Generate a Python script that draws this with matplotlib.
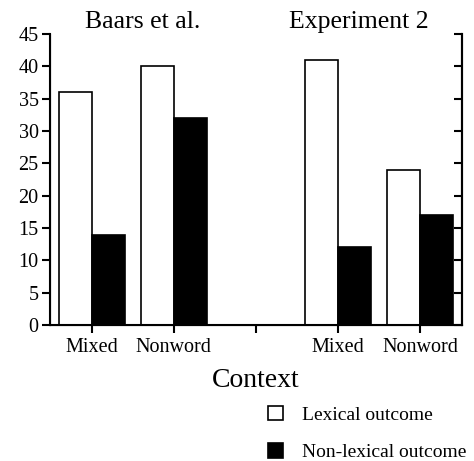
import numpy as np
import matplotlib.pyplot as plt
from matplotlib.patches import Patch

plt.rcParams["font.family"] = ["Liberation Serif", "DejaVu Serif"]

# data
tick_labels = ["Mixed", "Nonword", "", "Mixed", "Nonword"]
group_pos = [0, 1, 3, 4]
lexical = [36, 40, 41, 24]
nonlexical = [14, 32, 12, 17]
panel_titles = ["Baars et al.", "Experiment 2"]

fig = plt.figure(figsize=(4.74, 4.61), dpi=100)
ax = fig.add_axes([0.105, 0.295, 0.87, 0.631])

w = 0.4
x = np.array(group_pos)
ax.bar(x - w / 2, lexical, width=w, color="white", edgecolor="black", linewidth=1.2)
ax.bar(x + w / 2, nonlexical, width=w, color="black", edgecolor="black", linewidth=1.2)

ax.set_xlim(-0.51, 4.51)
ax.set_ylim(0, 45)
ax.set_yticks(range(0, 46, 5))
ax.set_xticks(range(5))
ax.set_xticklabels(tick_labels)
ax.tick_params(labelsize=14.5, length=6, width=1.5, direction="out", pad=2)
ax.tick_params(axis="x", pad=3)
for s in ["left", "bottom", "right"]:
    ax.spines[s].set_linewidth(1.5)
ax.spines["top"].set_visible(False)

ax2 = ax.twinx()
ax2.set_ylim(0, 45)
ax2.set_yticks(range(0, 46, 5))
ax2.tick_params(direction="in", length=6, width=1.5, labelright=False)
ax2.spines["right"].set_linewidth(1.5)
ax2.spines["top"].set_visible(False)

fig.text(143 / 474, 1 - 22 / 461, panel_titles[0], ha="center", va="center", fontsize=18.5)
fig.text(359 / 474, 1 - 22 / 461, panel_titles[1], ha="center", va="center", fontsize=18.5)

fig.text(256 / 474, 1 - 380 / 461, "Context", ha="center", va="center", fontsize=20)

handles = [Patch(facecolor="white", edgecolor="black", linewidth=1.2),
           Patch(facecolor="black", edgecolor="black", linewidth=1.2)]
fig.legend(handles, ["Lexical outcome", "Non-lexical outcome"],
           loc="upper left", bbox_to_anchor=(250 / 474, 1 - 388 / 461),
           frameon=False, fontsize=14, handlelength=0.8, handleheight=0.8,
           handletextpad=1.0, labelspacing=1.0, borderpad=0.4)

fig.savefig("out.png", dpi=100)
